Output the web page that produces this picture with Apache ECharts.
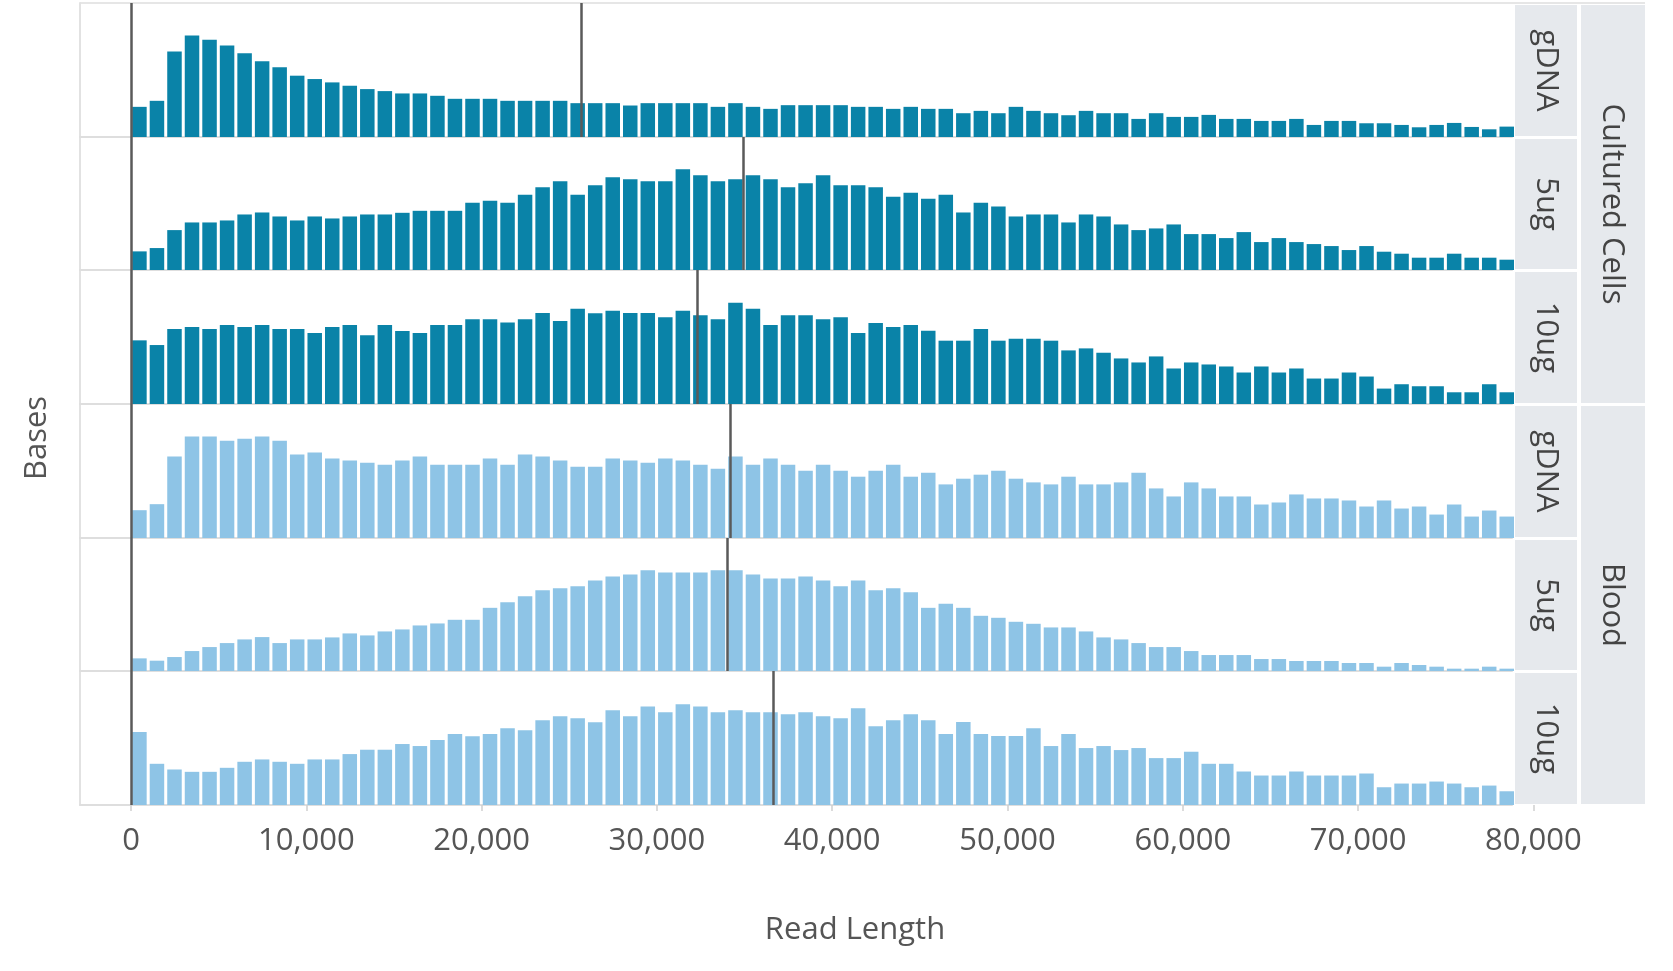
<!DOCTYPE html>
<html><head><meta charset="utf-8">
<script src="https://cdn.jsdelivr.net/npm/echarts@6/dist/echarts.min.js"></script>
<style>html,body{margin:0;padding:0;background:#fff}#c{width:1673px;height:971px}</style>
</head><body><div id="c"></div>
<script>
// ---- data ----
const BIN = 1000;
const binStarts = Array.from({length: 79}, (_, i) => i * BIN); // 0 .. 78,000
const tickValues = [0, 10000, 20000, 30000, 40000, 50000, 60000, 70000, 80000];

const rowLabels = ['gDNA', '5ug', '10ug', 'gDNA', '5ug', '10ug'];
const groupLabels = ['Cultured Cells', 'Blood'];

const culturedGDNA = [90,108,255,303,290,273,250,226,208,183,173,163,153,143,137,130,130,123,114,114,114,108,108,108,108,101,101,101,94,101,101,101,101,90,101,90,84,95,95,
  95,95,90,90,84,90,84,84,71,78,71,90,78,71,65,78,71,71,54,71,60,60,66,54,54,48,48,54,36,48,48,41,41,36,29,36,42,30,23,31];
const cultured5ug = [56,66,120,143,143,149,167,173,161,149,161,155,161,167,167,172,178,178,178,202,208,202,226,249,267,226,255,279,273,267,267,303,285,267,273,285,273,249,261,
  285,255,255,249,220,232,214,226,173,202,191,161,167,167,143,167,161,137,120,125,137,108,108,96,114,84,96,84,78,72,60,72,55,49,37,37,49,37,37,31];
const cultured10ug = [190,176,224,230,224,236,230,236,224,224,212,230,236,205,236,218,212,236,236,253,253,243,253,272,248,284,271,278,272,272,259,278,265,253,302,284,236,265,265,
  253,259,212,242,230,236,219,189,189,224,189,195,195,189,160,166,153,136,124,142,106,124,118,112,94,112,94,106,76,76,94,82,46,59,53,53,35,35,59,35];
const bloodGDNA = [83,101,243,303,303,290,296,303,290,249,255,237,231,225,219,231,243,219,219,219,237,219,249,243,231,213,213,237,231,225,237,231,219,207,243,219,237,219,201,
  219,201,183,201,219,183,195,160,177,189,201,177,166,160,183,160,160,166,195,148,124,166,148,124,124,100,106,130,118,118,112,94,112,88,94,70,100,64,82,64];
const blood5ug = [38,31,42,60,72,84,95,102,84,95,95,101,113,107,119,125,137,143,154,154,190,207,225,243,249,255,272,284,290,303,296,296,296,303,303,290,278,278,284,
  272,255,272,243,249,237,190,202,190,166,160,148,142,131,131,119,101,95,84,72,72,60,48,48,48,36,36,30,30,30,24,24,13,24,18,13,7,7,13,7];
const blood10ug = [218,123,106,99,99,111,129,136,129,123,136,136,152,165,165,182,176,194,212,205,212,229,223,253,265,259,247,283,265,294,277,301,294,277,283,277,277,271,277,
  265,259,289,235,253,271,253,212,248,212,206,206,229,176,212,170,176,164,170,140,140,159,123,123,100,88,88,100,88,88,88,94,53,64,64,70,64,53,58,41];

const medians = [25660, 34900, 32330, 34200, 33990, 36650];
const panelValues = [culturedGDNA, cultured5ug, cultured10ug, bloodGDNA, blood5ug, blood10ug];

// ---- layout / style ----
const FONT = '"Open Sans", "Noto Sans", sans-serif';
const colors = ['#0a83a8', '#0a83a8', '#0a83a8', '#8ec4e6', '#8ec4e6', '#8ec4e6'];
const tops = [3, 137, 270, 404, 538, 671, 805];
const LEFT = 80, RIGHT_EDGE = 1512;
const XMIN = -2910, XMAX = 78780;
const PXU = (RIGHT_EDGE - LEFT) / (XMAX - XMIN);
const zeroX = LEFT + (0 - XMIN) * PXU;

const grids = [], xAxes = [], yAxes = [], series = [];
for (let k = 0; k < 6; k++) {
  grids.push({left: LEFT, top: tops[k], width: RIGHT_EDGE - LEFT, height: tops[k + 1] - tops[k], containLabel: false});
  xAxes.push({type: 'value', gridIndex: k, min: XMIN, max: XMAX,
    axisLine: {show: true, onZero: false, lineStyle: {color: '#dedede', width: 2}},
    axisTick: {show: false}, axisLabel: {show: false}, splitLine: {show: false}});
  yAxes.push({type: 'value', gridIndex: k, min: 0, max: 400,
    axisLine: {show: true, onZero: false, lineStyle: {color: '#e2e2e2', width: 2}},
    axisTick: {show: false}, axisLabel: {show: false}, splitLine: {show: false}});
  series.push({
    type: 'bar', xAxisIndex: k, yAxisIndex: k, barWidth: 14.5,
    itemStyle: {color: colors[k]},
    data: binStarts.map((b, i) => [b + BIN * 0.48, panelValues[k][i]]),
    silent: true,
    markLine: {silent: true, symbol: ['none', 'none'], label: {show: false},
      lineStyle: {color: '#5a5a5a', width: 2.5, type: 'solid'},
      data: [{xAxis: 0}, {xAxis: medians[k]}]}
  });
}
// axis carrying the tick labels (extends past the panel to 80,000)
grids.push({left: zeroX, top: 804, width: 80000 * PXU, height: 1});
xAxes.push({type: 'value', gridIndex: 6, min: 0, max: 80000, interval: 10000,
  axisLine: {show: false}, splitLine: {show: false},
  axisTick: {show: true, length: 6, lineStyle: {color: '#cfcfcf', width: 1.5}},
  axisLabel: {show: true, margin: 21, fontSize: 31, fontFamily: FONT, color: '#555',
    formatter: v => v.toLocaleString('en-US')}});
yAxes.push({type: 'value', gridIndex: 6, show: false});

const graphic = [
  {type: 'line', shape: {x1: LEFT, y1: 3, x2: 1645, y2: 3}, style: {stroke: '#e6e6e6', lineWidth: 2}, silent: true},
  {type: 'text', x: 37, y: 438, rotation: Math.PI / 2,
    style: {text: 'Bases', fontSize: 31, fontFamily: FONT, fill: '#555', align: 'center', verticalAlign: 'middle'}},
  {type: 'text', x: 855, y: 930,
    style: {text: 'Read Length', fontSize: 31, fontFamily: FONT, fill: '#555', align: 'center', verticalAlign: 'middle'}}
];
for (let k = 0; k < 6; k++) {
  const y0 = tops[k] + 2, h = tops[k + 1] - tops[k] - 3;
  graphic.push({type: 'rect', shape: {x: 1515, y: y0, width: 62, height: h}, style: {fill: '#e6e9ed'}, silent: true});
  graphic.push({type: 'text', x: 1546, y: y0 + h / 2, rotation: -Math.PI / 2,
    style: {text: rowLabels[k], fontSize: 31, fontFamily: FONT, fill: '#444', align: 'center', verticalAlign: 'middle'}});
}
for (let g = 0; g < 2; g++) {
  const y0 = tops[g * 3] + 2, y1 = tops[g * 3 + 3] - 1;
  graphic.push({type: 'rect', shape: {x: 1581, y: y0, width: 64, height: y1 - y0}, style: {fill: '#e6e9ed'}, silent: true});
  graphic.push({type: 'text', x: 1612, y: (y0 + y1) / 2, rotation: -Math.PI / 2,
    style: {text: groupLabels[g], fontSize: 31, fontFamily: FONT, fill: '#444', align: 'center', verticalAlign: 'middle'}});
}

const chart = echarts.init(document.getElementById('c'), null, {renderer: 'canvas'});
chart.setOption({
  animation: false,
  backgroundColor: '#ffffff',
  grid: grids, xAxis: xAxes, yAxis: yAxes, series: series, graphic: graphic
});
</script></body></html>
